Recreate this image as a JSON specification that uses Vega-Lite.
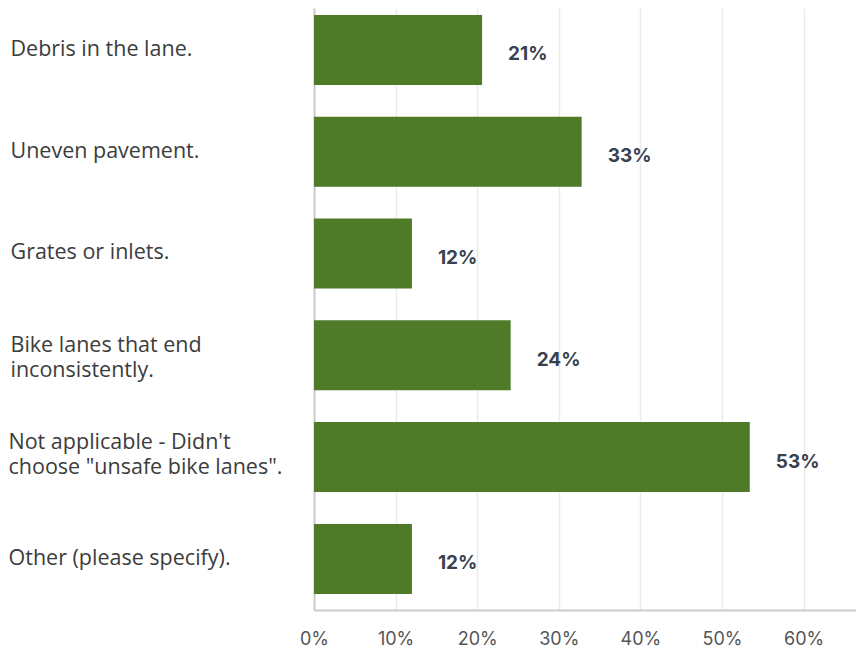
{
  "$schema": "https://vega.github.io/schema/vega-lite/v6.json",
  "autosize": "none",
  "width": 542,
  "height": 602,
  "padding": {"left": 314, "top": 8, "right": 0, "bottom": 41},
  "background": "white",
  "config": {"view": {"stroke": null}},
  "data": {
    "values": [
      {"answer": "Debris in the lane.", "share": 0.206},
      {"answer": "Uneven pavement.", "share": 0.328},
      {"answer": "Grates or inlets.", "share": 0.120},
      {"answer": "Bike lanes that end inconsistently.", "share": 0.241},
      {"answer": "Not applicable - Didn't choose \"unsafe bike lanes\".", "share": 0.534},
      {"answer": "Other (please specify).", "share": 0.120}
    ]
  },
  "encoding": {
    "y": {
      "field": "answer",
      "type": "nominal",
      "sort": null,
      "scale": {"paddingInner": 0.3124, "paddingOuter": 0.113, "align": 0.3},
      "axis": {
        "title": null,
        "ticks": false,
        "tickSize": 0,
        "labelAlign": "left",
        "labelPadding": {"condition": {"test": "indexof(datum.value, 'Not applicable') == 0 || indexof(datum.value, 'Other') == 0", "value": 306}, "value": 304},
        "labelFont": "Open Sans",
        "labelFontSize": 21.5,
        "labelColor": "#3c3c3c",
        "labelLineHeight": 25,
        "labelLimit": 400,
        "labelBaseline": "middle",
        "labelOffset": {"condition": [
          {"test": "indexof(datum.value, 'inconsistently') > 0", "value": -9},
          {"test": "indexof(datum.value, 'Not applicable') == 0", "value": -14}
        ], "value": 0},
        "domainColor": "#cccccc",
        "domainWidth": 2,
        "grid": false,
        "labelExpr": "indexof(datum.value, 'inconsistently') > 0 ? ['Bike lanes that end', 'inconsistently.'] : indexof(datum.value, 'Not applicable') == 0 ? [\"Not applicable - Didn't\", 'choose \"unsafe bike lanes\".'] : datum.value"
      }
    },
    "x": {
      "field": "share",
      "type": "quantitative",
      "scale": {"domain": [0, 0.6642], "nice": false},
      "axis": {
        "title": null,
        "format": ".0%",
        "values": [0, 0.1, 0.2, 0.3, 0.4, 0.5, 0.6],
        "ticks": false,
        "labelFlush": false,
        "labelPadding": 20,
        "labelFont": "Inter",
        "labelFontSize": 18,
        "labelColor": "#555555",
        "labelBaseline": "top",
        "domainColor": "#cccccc",
        "domainWidth": 2,
        "grid": true,
        "gridColor": "#ebebeb",
        "gridWidth": 1.5
      }
    }
  },
  "layer": [
    {"mark": {"type": "bar", "color": "#4f7a28"}},
    {
      "mark": {"type": "text", "align": "left", "baseline": "middle", "dx": 26, "dy": 4.5, "font": "Inter", "fontSize": 19, "fontWeight": "bold", "color": "#374150"},
      "encoding": {"text": {"field": "share", "type": "quantitative", "format": ".0%"}}
    }
  ]
}
